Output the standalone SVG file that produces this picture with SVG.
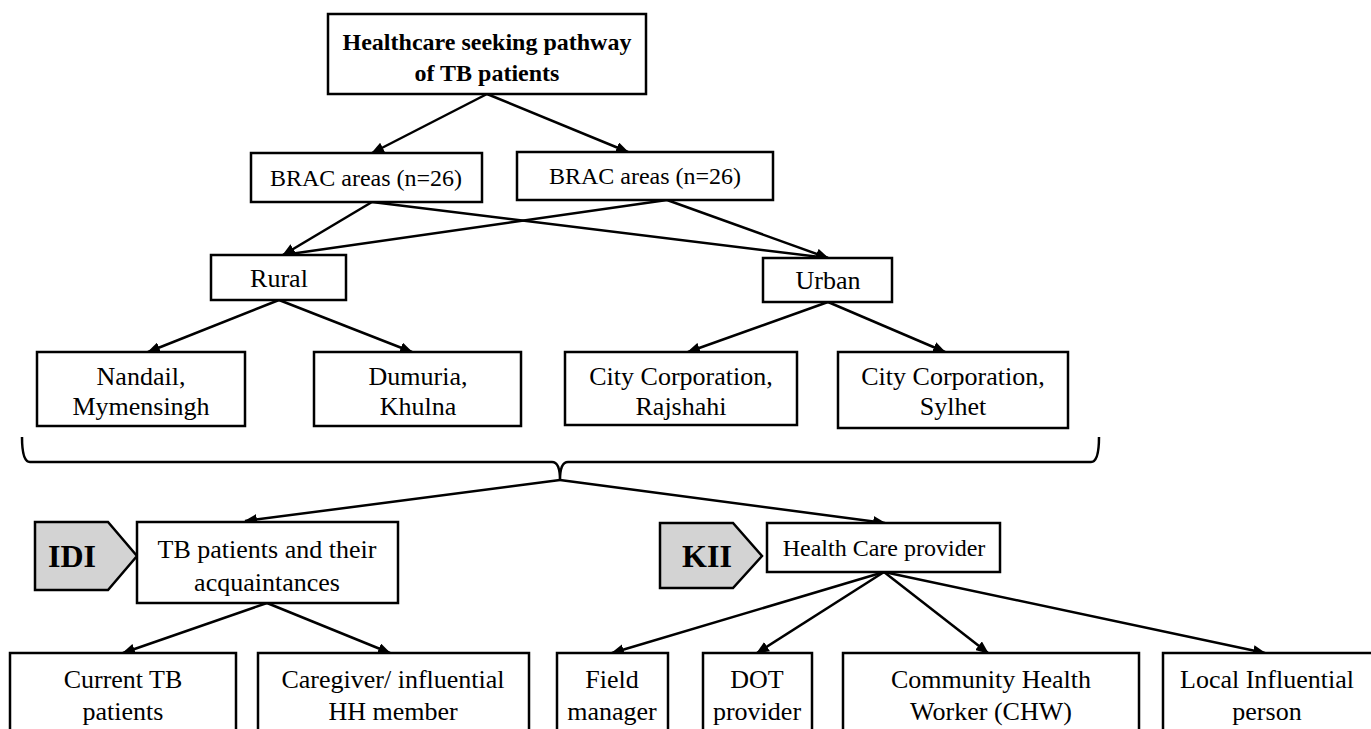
<svg xmlns="http://www.w3.org/2000/svg" width="1371" height="729" viewBox="0 0 1371 729">
<style>
.box{fill:#fff;stroke:#000;stroke-width:2.5}
.tag{fill:#d3d3d3;stroke:#000;stroke-width:2.5}
.t{font-family:"Liberation Serif","Times New Roman",serif;font-size:26px;fill:#000;text-anchor:middle}
.m{font-size:24px}
.b{font-weight:bold;font-size:24px}
.g{font-weight:bold;font-size:32px}
.c{fill:none;stroke:#000;stroke-width:2.5}
</style>
<defs>
<marker id="ah" viewBox="0 0 12 10" refX="11" refY="5" markerWidth="13" markerHeight="11" markerUnits="userSpaceOnUse" orient="auto">
<path d="M0,0 L12,5 L0,10 z" fill="#000"/>
</marker>
</defs>
<g id="connectors">
<line class="c" x1="487" y1="94" x2="372" y2="153" marker-end="url(#ah)"/>
<line class="c" x1="487" y1="94" x2="628" y2="152" marker-end="url(#ah)"/>
<line class="c" x1="372" y1="202" x2="283" y2="255" marker-end="url(#ah)"/>
<line class="c" x1="372" y1="202" x2="828" y2="258" marker-end="url(#ah)"/>
<line class="c" x1="667" y1="200" x2="283" y2="255" marker-end="url(#ah)"/>
<line class="c" x1="667" y1="200" x2="828" y2="258" marker-end="url(#ah)"/>
<line class="c" x1="279" y1="300" x2="148" y2="352" marker-end="url(#ah)"/>
<line class="c" x1="279" y1="300" x2="412" y2="352" marker-end="url(#ah)"/>
<line class="c" x1="828" y1="302" x2="688" y2="352" marker-end="url(#ah)"/>
<line class="c" x1="828" y1="302" x2="945" y2="352" marker-end="url(#ah)"/>
<path class="c" d="M22,437 Q22,462 30,462 L552,462 Q560,462 560,480 Q560,462 568,462 L1091,462 Q1099,462 1099,437"/>
<line class="c" x1="560" y1="480" x2="245" y2="521" marker-end="url(#ah)"/>
<line class="c" x1="560" y1="480" x2="885" y2="523" marker-end="url(#ah)"/>
<line class="c" x1="267" y1="603" x2="123" y2="653" marker-end="url(#ah)"/>
<line class="c" x1="267" y1="603" x2="390" y2="653" marker-end="url(#ah)"/>
<line class="c" x1="884" y1="572" x2="612" y2="653" marker-end="url(#ah)"/>
<line class="c" x1="884" y1="572" x2="757" y2="653" marker-end="url(#ah)"/>
<line class="c" x1="884" y1="572" x2="988" y2="653" marker-end="url(#ah)"/>
<line class="c" x1="884" y1="572" x2="1265" y2="653" marker-end="url(#ah)"/>
</g>
<g id="title"><rect class="box" x="328" y="14" width="318" height="80"/>
<text class="t b" x="487" y="50">Healthcare seeking pathway</text><text class="t b" x="487" y="81">of TB patients</text></g>
<g id="brac1"><rect class="box" x="251" y="153" width="231" height="49"/><text class="t m" x="366" y="186">BRAC areas (n=26)</text></g>
<g id="brac2"><rect class="box" x="517" y="152" width="256" height="48"/><text class="t m" x="645" y="184">BRAC areas (n=26)</text></g>
<g id="rural"><rect class="box" x="211" y="255" width="135" height="45"/><text class="t" x="279" y="287">Rural</text></g>
<g id="urban"><rect class="box" x="763" y="258" width="129" height="44"/><text class="t" x="828" y="289">Urban</text></g>
<g id="nandail"><rect class="box" x="37" y="352" width="208" height="74"/><text class="t" x="141" y="385">Nandail,</text><text class="t" x="141" y="415">Mymensingh</text></g>
<g id="dumuria"><rect class="box" x="314" y="352" width="207" height="74"/><text class="t" x="418" y="385">Dumuria,</text><text class="t" x="418" y="415">Khulna</text></g>
<g id="rajshahi"><rect class="box" x="565" y="352" width="232" height="73"/><text class="t" x="681" y="385">City Corporation,</text><text class="t" x="681" y="415">Rajshahi</text></g>
<g id="sylhet"><rect class="box" x="838" y="352" width="230" height="76"/><text class="t" x="953" y="385">City Corporation,</text><text class="t" x="953" y="415">Sylhet</text></g>
<g id="idi"><path class="tag" d="M35,522 L108,522 L137,556 L108,590 L35,590 Z"/><text class="t g" x="72" y="567">IDI</text></g>
<g id="tbpatients"><rect class="box" x="137" y="522" width="261" height="81"/><text class="t" x="267" y="558">TB patients and their</text><text class="t" x="267" y="591">acquaintances</text></g>
<g id="kii"><path class="tag" d="M660,523 L733,523 L762,556 L733,588 L660,588 Z"/><text class="t g" x="707" y="567">KII</text></g>
<g id="hcp"><rect class="box" x="767" y="523" width="233" height="49"/><text class="t m" x="884" y="556">Health Care provider</text></g>
<g id="current"><rect class="box" x="10" y="653" width="226" height="90"/><text class="t" x="123" y="688">Current TB</text><text class="t" x="123" y="720">patients</text></g>
<g id="caregiver"><rect class="box" x="258" y="653" width="271" height="90"/><text class="t" x="393" y="688">Caregiver/ influential</text><text class="t" x="393" y="720">HH member</text></g>
<g id="field"><rect class="box" x="557" y="653" width="111" height="90"/><text class="t" x="612" y="688">Field</text><text class="t" x="612" y="720">manager</text></g>
<g id="dot"><rect class="box" x="703" y="653" width="109" height="90"/><text class="t" x="757" y="688">DOT</text><text class="t" x="757" y="720">provider</text></g>
<g id="chw"><rect class="box" x="843" y="653" width="296" height="90"/><text class="t" x="991" y="688">Community Health</text><text class="t" x="991" y="720">Worker (CHW)</text></g>
<g id="local"><rect class="box" x="1163" y="653" width="220" height="90"/><text class="t" x="1267" y="688">Local Influential</text><text class="t" x="1267" y="720">person</text></g>
</svg>
